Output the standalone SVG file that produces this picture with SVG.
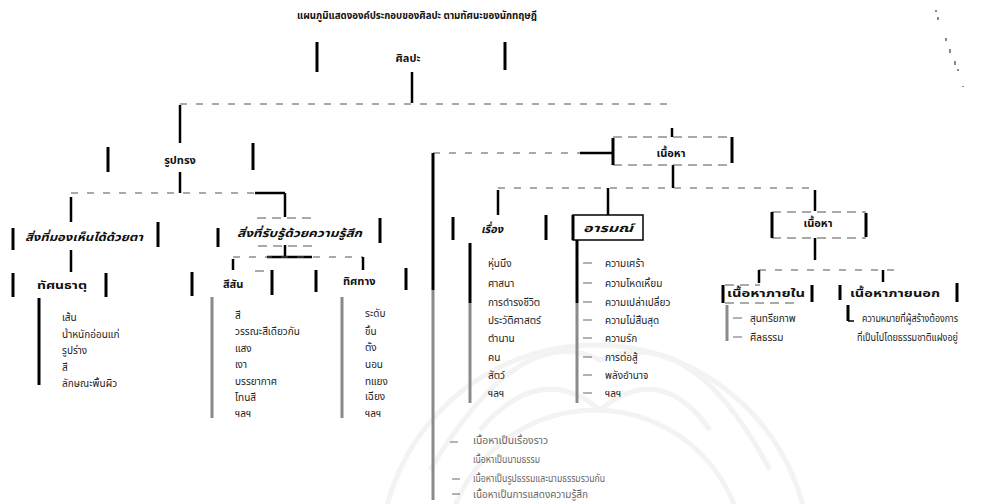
<svg xmlns="http://www.w3.org/2000/svg" width="1002" height="504" viewBox="0 0 1002 504">
<style>
.bg{fill:#fff}
.wm{fill:none;stroke:#f3f3f3;stroke-width:5}
.v{stroke:#000;stroke-width:3;fill:none}
.h{stroke:#555;stroke-width:1;stroke-dasharray:9 6;fill:none}
.c{stroke:#000;stroke-width:2.5;fill:none}
.cd{stroke:#555;stroke-width:1;stroke-dasharray:7 9;fill:none}
.bar{stroke:#000;stroke-width:3}
.gbar{stroke:#8a8a8a;stroke-width:3}
.tick{stroke:#666;stroke-width:1}
.t{font-family:"Noto Sans Thai","Noto Sans","DejaVu Sans",sans-serif;font-size:10px;fill:#222}
.hd{font-size:11px;font-weight:bold;fill:#111}
.i{font-style:italic}
.g{fill:#666}
</style>
<rect class="bg" x="0" y="0" width="1002" height="504"/>
<g id="watermark">
<circle class="wm" cx="595" cy="560" r="150"/>
<circle class="wm" cx="595" cy="560" r="215"/>
<path class="wm" d="M480 430 Q540 360 600 410 Q660 360 710 430"/>
<path class="wm" d="M430 470 Q520 320 600 360 Q690 320 770 470"/>
</g>
<g id="noise" fill="#888">
<rect x="935" y="10" width="2" height="2"/><rect x="937" y="17" width="2" height="3"/>
<rect x="945" y="38" width="2" height="3"/><rect x="949" y="49" width="2" height="4"/>
<rect x="954" y="61" width="2" height="4"/><rect x="957" y="69" width="2" height="2"/>
<rect x="962" y="86" width="2" height="1"/>
</g>
<g id="title"><text class="t hd" x="297" y="19" textLength="240" lengthAdjust="spacingAndGlyphs">แผนภูมิแสดงองค์ประกอบของศิลปะ ตามทัศนะของนักทฤษฎี</text></g>
<g id="connectors">
<line class="c" x1="412" y1="72" x2="412" y2="103"/>
<line class="cd" x1="180" y1="104" x2="672" y2="104"/>
<line class="c" x1="180" y1="105" x2="180" y2="143"/>
<line class="c" x1="672" y1="128" x2="672" y2="137"/>
<line class="c" x1="180" y1="172" x2="180" y2="193"/>
<line class="cd" x1="71" y1="193" x2="285" y2="193"/>
<line class="c" x1="255" y1="193" x2="285" y2="193"/>
<line class="c" x1="71" y1="197" x2="71" y2="222"/>
<line class="c" x1="285" y1="193" x2="285" y2="217"/>
<line class="c" x1="71" y1="250" x2="71" y2="272"/>
<line class="c" x1="285" y1="245" x2="285" y2="257"/>
<line class="c" x1="267" y1="257" x2="312" y2="257"/>
<line class="cd" x1="233" y1="257" x2="363" y2="257"/>
<line class="c" x1="233" y1="259" x2="233" y2="270"/>
<line class="c" x1="363" y1="257" x2="363" y2="270"/>
<line class="cd" x1="433" y1="153" x2="580" y2="153"/>
<line class="c" x1="580" y1="153" x2="612" y2="153" stroke-width="1.5"/>
<line class="c" x1="673" y1="165" x2="673" y2="188"/>
<line class="cd" x1="498" y1="188" x2="815" y2="188"/>
<line class="c" x1="498" y1="190" x2="498" y2="215"/>
<line class="c" x1="608" y1="188" x2="608" y2="215"/>
<line class="c" x1="815" y1="190" x2="815" y2="211"/>
<line class="c" x1="815" y1="238" x2="815" y2="260"/>
<line class="cd" x1="759" y1="270" x2="900" y2="270"/>
<line class="c" x1="759" y1="270" x2="759" y2="283"/>
<line class="c" x1="883" y1="270" x2="883" y2="282"/>
</g>
<g id="n-root">
<line class="v" x1="317" y1="42" x2="317" y2="72"/><line class="v" x1="505" y1="42" x2="505" y2="70"/>
<text class="t hd" x="408" y="62" text-anchor="middle">ศิลปะ</text>
</g>
<g id="n-form">
<line class="v" x1="108" y1="147" x2="108" y2="172"/><line class="v" x1="253" y1="143" x2="253" y2="170"/>
<text class="t hd" x="180" y="164" text-anchor="middle">รูปทรง</text>
</g>
<g id="n-visible">
<line class="v" x1="13" y1="228" x2="13" y2="250"/><line class="v" x1="158" y1="222" x2="158" y2="247"/>
<text class="t hd i" x="25" y="241" textLength="118" lengthAdjust="spacingAndGlyphs">สิ่งที่มองเห็นได้ด้วยตา</text>
</g>
<g id="n-invisible">
<line class="h" x1="257" y1="218" x2="315" y2="218"/><line class="h" x1="258" y1="246" x2="313" y2="246"/>
<line class="v" x1="218" y1="228" x2="218" y2="247"/><line class="v" x1="380" y1="218" x2="380" y2="243"/>
<text class="t hd i" x="237" y="237" textLength="125" lengthAdjust="spacingAndGlyphs">สิ่งที่รับรู้ด้วยความรู้สึก</text>
</g>
<g id="n-elements">
<line class="v" x1="13" y1="273" x2="13" y2="297"/><line class="v" x1="106" y1="273" x2="106" y2="297"/>
<text class="t hd" x="37" y="289" textLength="50" lengthAdjust="spacingAndGlyphs">ทัศนธาตุ</text>
<line class="bar" x1="39" y1="298" x2="39" y2="385"/>
<text class="t" x="62" y="321">เส้น</text>
<text class="t" x="62" y="338">น้ำหนักอ่อนแก่</text>
<text class="t" x="62" y="354">รูปร่าง</text>
<text class="t" x="62" y="371">สี</text>
<text class="t" x="62" y="387">ลักษณะพื้นผิว</text>
</g>
<g id="n-color">
<line class="v" x1="192" y1="272" x2="192" y2="296"/><line class="v" x1="272" y1="270" x2="272" y2="295"/>
<line class="h" x1="255" y1="271" x2="270" y2="271"/>
<text class="t hd" x="223" y="288">สีสัน</text>
<line class="gbar" x1="212" y1="297" x2="212" y2="418"/>
<text class="t" x="235" y="319">สี</text>
<text class="t" x="235" y="335">วรรณะสีเดียวกัน</text>
<text class="t" x="235" y="352">แสง</text>
<text class="t" x="235" y="368">เงา</text>
<text class="t" x="235" y="385">บรรยากาศ</text>
<text class="t" x="235" y="401">โทนสี</text>
<text class="t" x="235" y="417">ฯลฯ</text>
</g>
<g id="n-direction">
<line class="v" x1="316" y1="270" x2="316" y2="292"/><line class="v" x1="406" y1="268" x2="406" y2="290"/>
<text class="t hd" x="343" y="285">ทิศทาง</text>
<line class="gbar" x1="342" y1="297" x2="342" y2="418"/>
<text class="t" x="365" y="317">ระดับ</text>
<text class="t" x="365" y="335">ขึ้น</text>
<text class="t" x="365" y="351">ตั้ง</text>
<text class="t" x="365" y="368">นอน</text>
<text class="t" x="365" y="385">ทแยง</text>
<text class="t" x="365" y="400">เฉียง</text>
<text class="t" x="365" y="417">ฯลฯ</text>
</g>
<g id="n-kinds">
<line class="bar" x1="433" y1="153" x2="433" y2="290"/>
<line class="gbar" x1="433" y1="290" x2="433" y2="500"/>
<line class="tick" x1="450" y1="442" x2="458" y2="442"/>
<line class="tick" x1="452" y1="479" x2="460" y2="479"/>
<line class="tick" x1="452" y1="494" x2="460" y2="494"/>
<text class="t g" x="473" y="444" textLength="75" lengthAdjust="spacingAndGlyphs">เนื้อหาเป็นเรื่องราว</text>
<text class="t g" x="473" y="463" textLength="67" lengthAdjust="spacingAndGlyphs">เนื้อหาเป็นนามธรรม</text>
<text class="t g" x="473" y="482" textLength="132" lengthAdjust="spacingAndGlyphs">เนื้อหาเป็นรูปธรรมและนามธรรมรวมกัน</text>
<text class="t g" x="473" y="498" textLength="115" lengthAdjust="spacingAndGlyphs">เนื้อหาเป็นการแสดงความรู้สึก</text>
</g>
<g id="n-content">
<line class="h" x1="613" y1="137" x2="732" y2="137"/><line class="h" x1="613" y1="165" x2="732" y2="165"/>
<line class="v" x1="613" y1="138" x2="613" y2="165"/><line class="v" x1="732" y1="137" x2="732" y2="163"/>
<text class="t hd" x="671" y="157" text-anchor="middle">เนื้อหา</text>
</g>
<g id="n-story">
<line class="v" x1="453" y1="217" x2="453" y2="240"/><line class="v" x1="546" y1="215" x2="546" y2="240"/>
<text class="t hd i" x="492" y="233" text-anchor="middle">เรื่อง</text>
<line class="bar" x1="470" y1="243" x2="470" y2="303"/>
<line class="gbar" x1="470" y1="303" x2="470" y2="403"/>
<text class="t" x="488" y="267">หุ่นนิ่ง</text>
<text class="t" x="488" y="287">ศาสนา</text>
<text class="t" x="488" y="306">การดำรงชีวิต</text>
<text class="t" x="488" y="324">ประวัติศาสตร์</text>
<text class="t" x="488" y="342">ตำนาน</text>
<text class="t" x="488" y="361">คน</text>
<text class="t" x="488" y="379">สัตว์</text>
<text class="t" x="488" y="397">ฯลฯ</text>
</g>
<g id="n-emotion">
<rect x="573" y="215" width="70" height="25" fill="none" stroke="#000" stroke-width="1.5"/>
<line class="v" x1="573" y1="215" x2="573" y2="240"/>
<text class="t hd i" x="583" y="232" textLength="50" lengthAdjust="spacingAndGlyphs">อารมณ์</text>
<line class="bar" x1="577" y1="240" x2="577" y2="303"/>
<line class="gbar" x1="577" y1="303" x2="577" y2="403"/>
<g class="tick">
<line x1="583" y1="263" x2="592" y2="263"/><line x1="583" y1="283" x2="592" y2="283"/>
<line x1="583" y1="302" x2="592" y2="302"/><line x1="583" y1="320" x2="592" y2="320"/>
<line x1="583" y1="338" x2="592" y2="338"/><line x1="583" y1="357" x2="592" y2="357"/>
<line x1="583" y1="375" x2="592" y2="375"/><line x1="583" y1="393" x2="592" y2="393"/>
</g>
<text class="t" x="605" y="267">ความเศร้า</text>
<text class="t" x="605" y="287">ความโหดเหี้ยม</text>
<text class="t" x="605" y="306">ความเปล่าเปลี่ยว</text>
<text class="t" x="605" y="324">ความไม่สิ้นสุด</text>
<text class="t" x="605" y="342">ความรัก</text>
<text class="t" x="605" y="361">การต่อสู้</text>
<text class="t" x="605" y="379">พลังอำนาจ</text>
<text class="t" x="605" y="397">ฯลฯ</text>
</g>
<g id="n-content2">
<line class="h" x1="772" y1="212" x2="866" y2="212"/><line class="h" x1="772" y1="238" x2="866" y2="238"/>
<line class="v" x1="772" y1="212" x2="772" y2="238"/><line class="v" x1="866" y1="213" x2="866" y2="237"/>
<text class="t hd" x="818" y="227" text-anchor="middle">เนื้อหา</text>
</g>
<g id="n-inner">
<line class="h" x1="725" y1="285" x2="760" y2="285"/><line class="h" x1="725" y1="303" x2="800" y2="303"/>
<line class="v" x1="723" y1="285" x2="723" y2="303"/><line class="v" x1="812" y1="285" x2="812" y2="302"/>
<text class="t hd" x="727" y="297" textLength="78" lengthAdjust="spacingAndGlyphs">เนื้อหาภายใน</text>
<line class="gbar" x1="727" y1="305" x2="727" y2="341"/>
<line class="tick" x1="733" y1="318" x2="742" y2="318"/><line class="tick" x1="733" y1="337" x2="742" y2="337"/>
<text class="t" x="750" y="322">สุนทรียภาพ</text>
<text class="t" x="750" y="341">ศีลธรรม</text>
</g>
<g id="n-outer">
<line class="v" x1="840" y1="285" x2="840" y2="300"/><line class="v" x1="957" y1="283" x2="957" y2="302"/>
<text class="t hd" x="850" y="297" textLength="90" lengthAdjust="spacingAndGlyphs">เนื้อหาภายนอก</text>
<line class="v" x1="848" y1="305" x2="848" y2="321"/><line x1="848" y1="321" x2="854" y2="321" stroke="#000" stroke-width="1.5"/>
<text class="t" x="862" y="322" textLength="96" lengthAdjust="spacingAndGlyphs">ความหมายที่ผู้สร้างต้องการ</text>
<text class="t" x="857" y="341" textLength="101" lengthAdjust="spacingAndGlyphs">ที่เป็นไปโดยธรรมชาติแฝงอยู่</text>
</g>
</svg>
